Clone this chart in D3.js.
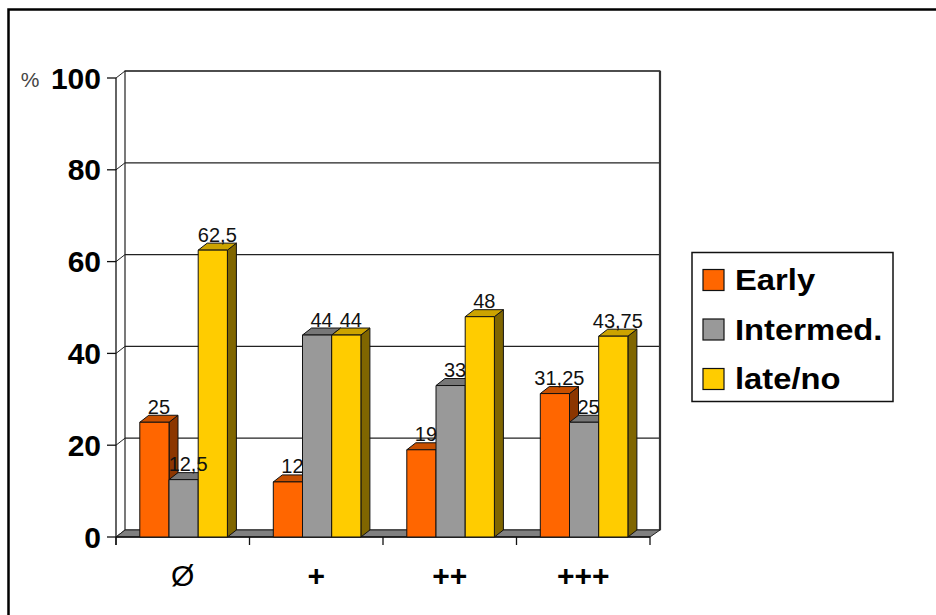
<!DOCTYPE html>
<html>
<head>
<meta charset="utf-8">
<script src="https://cdn.jsdelivr.net/npm/d3@7/dist/d3.min.js"></script>
<style>
  html, body { margin: 0; padding: 0; background: #fff; }
  svg { display: block; font-family: "Liberation Sans", Arial, sans-serif; }
</style>
</head>
<body>
<svg id="chart" width="936" height="615"></svg>
<script>
// Categories, series and values
const categories = ["Ø", "+", "++", "+++"];
const seriesNames = ["Early", "Intermed.", "late/no"];
const early = [25, 12, 19, 31.25];
const intermed = [12.5, 44, 33, 25];
const lateNo = [62.5, 44, 48, 43.75];
const yTicks = [0, 20, 40, 60, 80, 100];

const seriesValues = [early, intermed, lateNo];

// Face colours per series: front, top, side
const frontColors = ["#FF6600", "#999999", "#FFCC00"];
const topColors = ["#C85000", "#777777", "#CCA300"];
const sideColors = ["#8C3600", "#666666", "#806600"];

const svg = d3.select("#chart");

// Plot geometry (front plane) and depth offset of the 3D box
const plotLeft = 116, plotRight = 650, plotBottom = 537, plotTop = 78;
const dx = 9, dy = -7;

const y = d3.scaleLinear().domain([0, 100]).range([plotBottom, plotTop]);
const x0 = d3.scaleBand().domain(categories).range([plotLeft, plotRight]).padding(0);
const groupWidth = 87.6;
const groupOffset = 23.8;
const x1 = d3.scaleBand().domain(seriesNames).range([0, groupWidth]).padding(0);

// Outer frame
svg.append("rect")
  .attr("x", 8.5).attr("y", 9.5)
  .attr("width", 960).attr("height", 640)
  .attr("fill", "#fff").attr("stroke", "#000").attr("stroke-width", 2.5);

// Back wall
const wallLeft = plotLeft + dx, wallRight = plotRight + dx + 1;
svg.append("rect")
  .attr("x", wallLeft).attr("y", y(100) + dy)
  .attr("width", wallRight - wallLeft).attr("height", y(0) - y(100))
  .attr("fill", "#fff").attr("stroke", "#222").attr("stroke-width", 1.2);

// Gridlines on the back wall and their diagonals on the side wall
const grid = svg.append("g");
yTicks.filter(t => t > 0).forEach(t => {
  grid.append("line")
    .attr("x1", wallLeft).attr("x2", wallRight)
    .attr("y1", y(t) + dy).attr("y2", y(t) + dy)
    .attr("stroke", "#222").attr("stroke-width", 1.2);
});
yTicks.forEach(t => {
  grid.append("line")
    .attr("x1", plotLeft).attr("y1", y(t))
    .attr("x2", plotLeft + dx).attr("y2", y(t) + dy)
    .attr("stroke", "#222").attr("stroke-width", 1);
});
// Right wall edge
svg.append("line")
  .attr("x1", wallRight).attr("x2", wallRight)
  .attr("y1", y(100) + dy).attr("y2", y(0) + dy)
  .attr("stroke", "#333").attr("stroke-width", 2.2);

// Floor
svg.append("polygon")
  .attr("points", [
    [plotLeft, y(0)], [plotLeft + dx, y(0) + dy], [wallRight, y(0) + dy], [plotRight, y(0)]
  ].map(p => p.join(",")).join(" "))
  .attr("fill", "#808080").attr("stroke", "#222").attr("stroke-width", 1);

// Y axis (front left edge) with ticks
svg.append("line")
  .attr("x1", plotLeft).attr("x2", plotLeft)
  .attr("y1", y(100)).attr("y2", y(0) + 8)
  .attr("stroke", "#111").attr("stroke-width", 1.3);
// X axis baseline with category ticks
svg.append("line")
  .attr("x1", plotLeft).attr("x2", plotRight)
  .attr("y1", y(0)).attr("y2", y(0))
  .attr("stroke", "#111").attr("stroke-width", 1.3);
const xEdges = categories.map(c => x0(c)).concat([plotRight]);
xEdges.forEach(xe => {
  svg.append("line")
    .attr("x1", xe).attr("x2", xe)
    .attr("y1", y(0)).attr("y2", y(0) + 8)
    .attr("stroke", "#111").attr("stroke-width", 1.3);
});
yTicks.forEach(t => {
  svg.append("line")
    .attr("x1", plotLeft - 9).attr("x2", plotLeft)
    .attr("y1", y(t)).attr("y2", y(t))
    .attr("stroke", "#111").attr("stroke-width", 1.3);
});

// Bars: side, top, then front face, drawn left to right
const bars = svg.append("g");
const pts = arr => arr.map(p => p.join(",")).join(" ");
categories.forEach((cat, ci) => {
  seriesNames.forEach((s, si) => {
    const v = seriesValues[si][ci];
    const bx = x0(cat) + groupOffset + x1(s);
    const bw = x1.bandwidth();
    const yt = y(v), yb = y(0);
    const g = bars.append("g")
      .attr("stroke", "#111").attr("stroke-width", 1).attr("stroke-linejoin", "round");
    g.append("polygon")
      .attr("points", pts([[bx + bw, yt], [bx + bw + dx, yt + dy], [bx + bw + dx, yb + dy], [bx + bw, yb]]))
      .attr("fill", sideColors[si]);
    g.append("polygon")
      .attr("points", pts([[bx, yt], [bx + dx, yt + dy], [bx + bw + dx, yt + dy], [bx + bw, yt]]))
      .attr("fill", topColors[si]);
    g.append("rect")
      .attr("x", bx).attr("y", yt)
      .attr("width", bw).attr("height", yb - yt)
      .attr("fill", frontColors[si]);
  });
});

// Value labels above each bar
const fmt = v => String(v).replace(".", ",");
categories.forEach((cat, ci) => {
  seriesNames.forEach((s, si) => {
    const v = seriesValues[si][ci];
    const bx = x0(cat) + groupOffset + x1(s);
    svg.append("text")
      .attr("x", bx + x1.bandwidth() / 2 + dx / 2)
      .attr("y", y(v) - 8.5)
      .attr("text-anchor", "middle")
      .attr("font-size", 20)
      .attr("fill", "#111")
      .text(fmt(v));
  });
});

// Y tick labels
yTicks.forEach(t => {
  svg.append("text")
    .attr("x", 101).attr("y", y(t) + 10.5)
    .attr("text-anchor", "end")
    .attr("font-size", 30).attr("font-weight", "bold")
    .attr("fill", "#000")
    .text(t);
});
svg.append("text")
  .attr("x", 30).attr("y", 87)
  .attr("text-anchor", "middle")
  .attr("font-size", 21).attr("fill", "#444")
  .text("%");

// Category labels
categories.forEach((cat, ci) => {
  svg.append("text")
    .attr("x", x0(cat) + x0.bandwidth() / 2)
    .attr("y", 586)
    .attr("text-anchor", "middle")
    .attr("font-size", 30)
    .attr("font-weight", cat === "Ø" ? "normal" : "bold")
    .attr("fill", "#000")
    .text(cat);
});

// Legend
const legend = svg.append("g");
legend.append("rect")
  .attr("x", 692).attr("y", 252.5)
  .attr("width", 201).attr("height", 149)
  .attr("fill", "#fff").attr("stroke", "#111").attr("stroke-width", 1.5);
const legendY = [280, 329.5, 379];
seriesNames.forEach((s, si) => {
  legend.append("rect")
    .attr("x", 703).attr("y", legendY[si] - 10.5)
    .attr("width", 21).attr("height", 21)
    .attr("fill", frontColors[si]).attr("stroke", "#111").attr("stroke-width", 1.2);
  legend.append("text")
    .attr("transform", `translate(735,${legendY[si] + 10}) scale(1.13,1)`)
    .attr("font-size", 29).attr("font-weight", "bold")
    .attr("fill", "#000")
    .text(s);
});
</script>
</body>
</html>
